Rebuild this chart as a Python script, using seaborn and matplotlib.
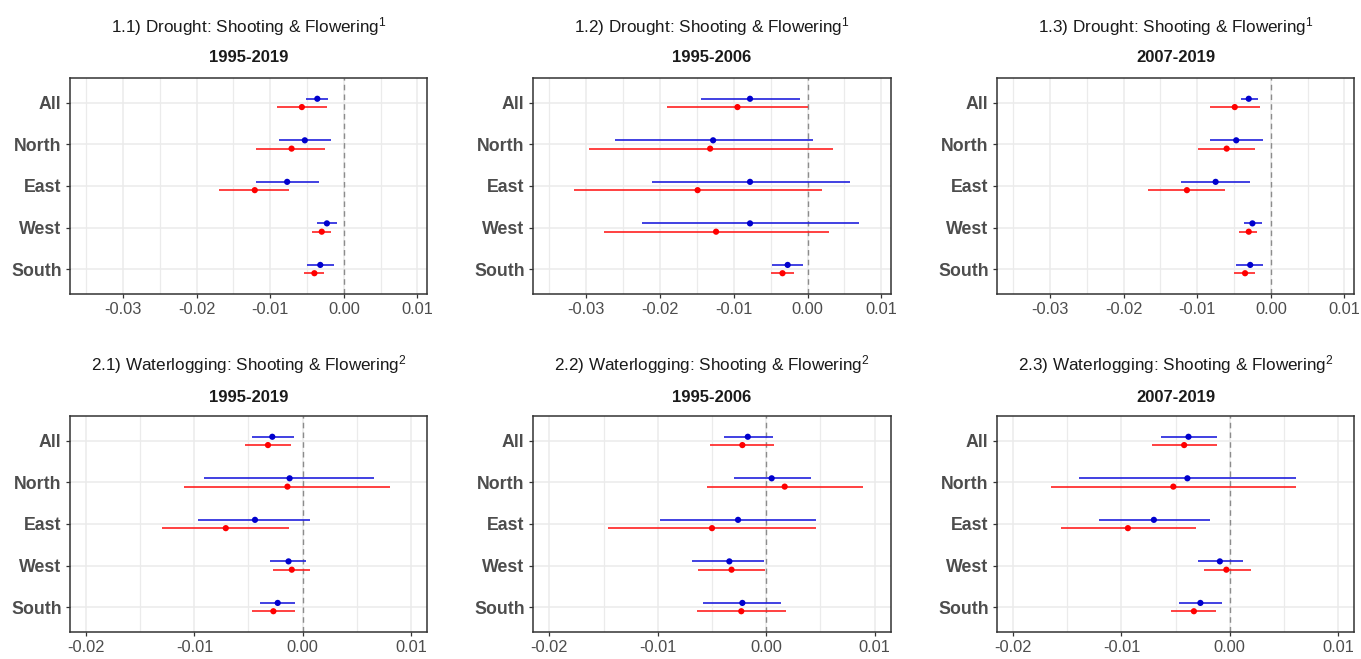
import numpy as np
import pandas as pd
import matplotlib
matplotlib.use("Agg")
import matplotlib.pyplot as plt
import seaborn as sns

# Regions (top to bottom)
regions = ["All", "North", "East", "West", "South"]

# (estimate, lower, upper) per region, blue and red series, per panel
drought_9519_blue = [(-0.0036, -0.0052, -0.0021), (-0.0053, -0.0088, -0.0017), (-0.0077, -0.0119, -0.0034),
                     (-0.0023, -0.0036, -0.0009), (-0.0032, -0.0050, -0.0014)]
drought_9519_red = [(-0.0057, -0.0091, -0.0023), (-0.0071, -0.0119, -0.0025), (-0.0121, -0.0169, -0.0075),
                    (-0.0030, -0.0043, -0.0017), (-0.0040, -0.0054, -0.0027)]
drought_9506_blue = [(-0.0078, -0.0145, -0.0010), (-0.0128, -0.0261, 0.0007), (-0.0078, -0.0211, 0.0057),
                     (-0.0078, -0.0224, 0.0070), (-0.0027, -0.0048, -0.0006)]
drought_9506_red = [(-0.0095, -0.0191, 0.0000), (-0.0132, -0.0296, 0.0035), (-0.0149, -0.0317, 0.0019),
                    (-0.0124, -0.0276, 0.0029), (-0.0034, -0.0050, -0.0019)]
drought_0719_blue = [(-0.0030, -0.0041, -0.0018), (-0.0047, -0.0082, -0.0010), (-0.0075, -0.0122, -0.0028),
                     (-0.0025, -0.0037, -0.0012), (-0.0028, -0.0047, -0.0010)]
drought_0719_red = [(-0.0049, -0.0082, -0.0015), (-0.0060, -0.0099, -0.0021), (-0.0114, -0.0167, -0.0062),
                    (-0.0030, -0.0043, -0.0019), (-0.0035, -0.0050, -0.0021)]
water_9519_blue = [(-0.0028, -0.0047, -0.0008), (-0.0012, -0.0091, 0.0066), (-0.0044, -0.0097, 0.0007),
                   (-0.0013, -0.0030, 0.0003), (-0.0023, -0.0039, -0.0007)]
water_9519_red = [(-0.0032, -0.0053, -0.0011), (-0.0014, -0.0110, 0.0081), (-0.0071, -0.0130, -0.0013),
                  (-0.0010, -0.0027, 0.0007), (-0.0027, -0.0047, -0.0007)]
water_9506_blue = [(-0.0017, -0.0039, 0.0006), (0.0005, -0.0030, 0.0041), (-0.0026, -0.0098, 0.0046),
                   (-0.0034, -0.0068, -0.0002), (-0.0022, -0.0058, 0.0014)]
water_9506_red = [(-0.0022, -0.0052, 0.0007), (0.0017, -0.0055, 0.0089), (-0.0050, -0.0146, 0.0046),
                  (-0.0032, -0.0063, -0.0001), (-0.0023, -0.0064, 0.0018)]
water_0719_blue = [(-0.0038, -0.0063, -0.0012), (-0.0039, -0.0139, 0.0061), (-0.0070, -0.0121, -0.0018),
                   (-0.0009, -0.0029, 0.0012), (-0.0027, -0.0047, -0.0007)]
water_0719_red = [(-0.0042, -0.0072, -0.0012), (-0.0052, -0.0165, 0.0061), (-0.0094, -0.0156, -0.0031),
                  (-0.0003, -0.0024, 0.0020), (-0.0033, -0.0054, -0.0013)]

titles = ["1.1) Drought: Shooting & Flowering$^1$", "1.2) Drought: Shooting & Flowering$^1$",
          "1.3) Drought: Shooting & Flowering$^1$", "2.1) Waterlogging: Shooting & Flowering$^2$",
          "2.2) Waterlogging: Shooting & Flowering$^2$", "2.3) Waterlogging: Shooting & Flowering$^2$"]
periods = ["1995-2019", "1995-2006", "2007-2019", "1995-2019", "1995-2006", "2007-2019"]
panels = [(drought_9519_blue, drought_9519_red), (drought_9506_blue, drought_9506_red),
          (drought_0719_blue, drought_0719_red), (water_9519_blue, water_9519_red),
          (water_9506_blue, water_9506_red), (water_0719_blue, water_0719_red)]

sns.set_theme(style="whitegrid")
plt.rcParams["font.family"] = ["Liberation Sans", "DejaVu Sans"]
plt.rcParams["mathtext.fontset"] = "custom"
plt.rcParams["mathtext.rm"] = "Liberation Sans"
plt.rcParams["mathtext.it"] = "Liberation Sans"

W, H = 1361, 659
fig = plt.figure(figsize=(W / 100, H / 100), dpi=100)
fig.patch.set_facecolor("white")

col_x = [(70, 427), (533, 891), (997, 1354)]
row_y = [(78, 294), (416, 632)]
title_y = [(27, 58), (365, 397)]
palette = {"blue": "#0000CD", "red": "#FF0000"}
line_col = {"blue": "#2020DD", "red": "#FF2020"}

for k, (blue, red) in enumerate(panels):
    r, c = divmod(k, 3)
    x0, x1 = col_x[c]
    y0, y1 = row_y[r]
    ax = fig.add_axes([x0 / W, 1 - y1 / H, (x1 - x0) / W, (y1 - y0) / H])

    rows = []
    for series, vals, off in [("blue", blue, -0.1), ("red", red, 0.1)]:
        for i, (est, lo, hi) in enumerate(vals):
            rows.append({"region": regions[i], "series": series, "est": est, "lo": lo, "hi": hi, "ypos": i + off})
    df = pd.DataFrame(rows)

    for series in ["blue", "red"]:
        d = df[df.series == series]
        ax.hlines(d.ypos, d.lo, d.hi, colors=line_col[series], lw=1.2, zorder=3)
    sns.scatterplot(data=df, x="est", y="ypos", hue="series", palette=palette, s=20,
                    linewidth=0, legend=False, ax=ax, zorder=4)
    ax.axvline(0, color="#8C8C8C", ls=(0, (4, 3)), lw=1.0, zorder=2)

    if r == 0:
        ax.set_xlim(-0.0372, 0.0113)
        ax.set_xticks([-0.03, -0.02, -0.01, 0.0, 0.01])
        ax.set_xticks([-0.035, -0.025, -0.015, -0.005, 0.005], minor=True)
    else:
        ax.set_xlim(-0.0215, 0.0115)
        ax.set_xticks([-0.02, -0.01, 0.0, 0.01])
        ax.set_xticks([-0.015, -0.005, 0.005], minor=True)
    ax.set_xticklabels([f"{t:.2f}" for t in ax.get_xticks()])
    ax.set_ylim(4.6, -0.6)
    ax.set_yticks(range(len(regions)))
    ax.set_yticklabels(regions, fontweight="bold", fontsize=12.8, color="#4D4D4D")
    ax.set_xlabel("")
    ax.set_ylabel("")

    ax.grid(which="major", color="#EBEBEB", lw=1.1)
    ax.grid(which="minor", axis="x", color="#EBEBEB", lw=0.9)
    ax.set_axisbelow(True)
    ax.tick_params(axis="x", which="major", labelsize=11.8, labelcolor="#4D4D4D", length=3, width=0.9,
                   color="#333333", bottom=True, pad=3)
    ax.tick_params(axis="y", which="major", length=3, width=0.9, color="#333333", left=True, pad=3)
    ax.tick_params(which="minor", length=0)
    for sp in ax.spines.values():
        sp.set_color("#333333")
        sp.set_linewidth(1.1)

    cx = (x0 + x1) / 2 / W
    fig.text(cx, 1 - title_y[r][0] / H, titles[k], ha="center", va="center", fontsize=12.3, color="#1A1A1A")
    fig.text(cx, 1 - title_y[r][1] / H, periods[k], ha="center", va="center", fontsize=12,
             fontweight="bold", color="#1A1A1A")

fig.savefig("out.png", dpi=100, facecolor="white")
